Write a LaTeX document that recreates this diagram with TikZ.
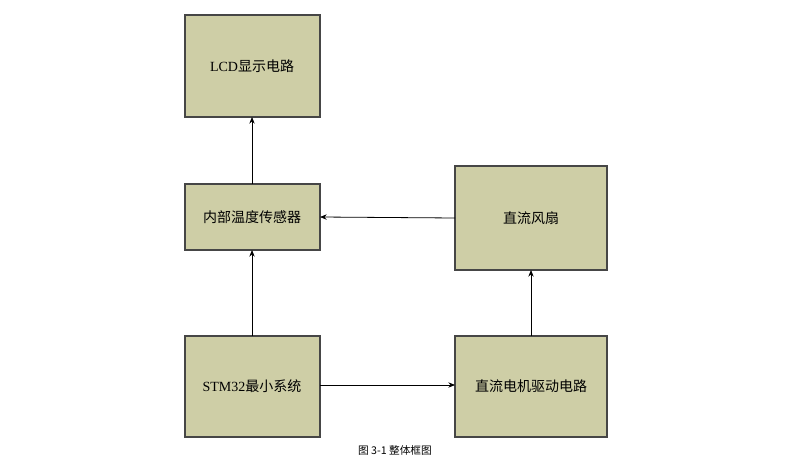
\documentclass[tikz,border=0pt]{standalone}
\usepackage{fontspec}
\setmainfont{Liberation Serif}
\newfontfamily\cjk{Noto Sans CJK SC}
\usetikzlibrary{arrows.meta}
\definecolor{boxfill}{RGB}{206,206,166}
\definecolor{boxline}{RGB}{70,70,70}
\begin{document}
\begin{tikzpicture}[x=0.75pt,y=-0.75pt,
  blk/.style={draw=boxline,fill=boxfill,line width=0.8pt,font=\fontsize{10.5}{12}\selectfont\cjk},
  arr/.style={-{Stealth[length=5pt,width=4pt]},line width=0.6pt}]
\useasboundingbox (0,0) rectangle (800,463);
\fill[white] (0,0) rectangle (800,463);
\draw[blk] (185,15) rectangle (320,117) node[midway,draw=none,fill=none] (lcd) {};
\node[font=\fontsize{10.5}{12}\selectfont] at (252,66) {LCD\cjk 显示电路};
\draw[blk] (185,184) rectangle (320,250);
\node[font=\fontsize{10.5}{12}\selectfont\cjk] (sen) at (252,217) {内部温度传感器};
\draw[blk] (455,166) rectangle (607,270);
\node[font=\fontsize{10.5}{12}\selectfont\cjk] (fan) at (531,218) {直流风扇};
\draw[blk] (185,336) rectangle (320,437);
\node[font=\fontsize{10.5}{12}\selectfont] (stm) at (252,386) {STM32\cjk 最小系统};
\draw[blk] (455,336) rectangle (607,437);
\node[font=\fontsize{10.5}{12}\selectfont\cjk] (mot) at (531,386) {直流电机驱动电路};
\coordinate (lcdB) at (252,117); \coordinate (senT) at (252,184);
\coordinate (senB) at (252,250); \coordinate (stmT) at (252,336);
\coordinate (stmR) at (320,385); \coordinate (motL) at (455,385);
\coordinate (motT) at (531,336); \coordinate (fanB) at (531,270);
\coordinate (fanL) at (455,218); \coordinate (senR) at (320,217);
\draw[arr] (senT) -- (lcdB);
\draw[arr] (stmT) -- (senB);
\draw[arr] (stmR) -- (motL);
\draw[arr] (motT) -- (fanB);
\draw[arr] (fanL) -- (senR);
\node[font=\fontsize{8}{10}\selectfont\cjk] (cap) at (395,450) {图 3-1 整体框图};
\end{tikzpicture}
\end{document}
